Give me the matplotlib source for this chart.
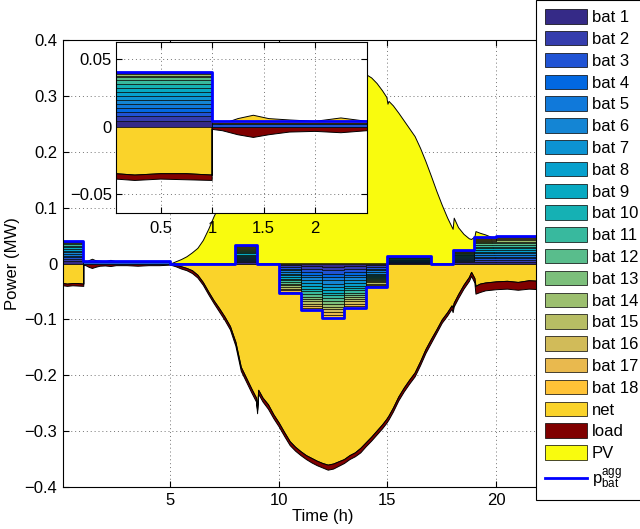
import numpy as np
import matplotlib
matplotlib.use('Agg')
import matplotlib.pyplot as plt
from matplotlib.patches import Patch
from matplotlib.lines import Line2D
from matplotlib.ticker import FuncFormatter

plt.rcParams['font.family'] = ['Liberation Sans', 'DejaVu Sans']
plt.rcParams['mathtext.fontset'] = 'custom'
plt.rcParams['mathtext.rm'] = 'Liberation Sans'
plt.rcParams['mathtext.it'] = 'Liberation Sans'
plt.rcParams['font.size'] = 12

# time (h) of the PV / net / load traces (repeated time = step)
t_pts = [0.0667, 0.25, 0.5, 0.75, 1.0, 1.0, 1.1, 1.25, 1.4, 1.55, 1.75, 2.0, 2.25, 2.5,
         3.0, 3.5, 4.0, 4.5, 5.0, 5.25, 5.5, 5.75, 6.0, 6.25, 6.5, 6.75, 7.0, 7.25,
         7.5, 7.75, 8.0, 8.25, 8.5, 8.75, 8.95, 9.0, 9.05, 9.25, 9.5, 9.75, 10.0,
         10.25, 10.5, 10.75, 11.0, 11.25, 11.5, 11.75, 12.0, 12.25, 12.5, 12.75, 13.0,
         13.25, 13.5, 13.75, 14.0, 14.25, 14.5, 14.75, 14.95, 15.0, 15.05, 15.25, 15.5,
         15.75, 16.0, 16.25, 16.5, 16.75, 17.0, 17.25, 17.5, 17.75, 17.95, 18.0, 18.05,
         18.25, 18.5, 18.75, 18.85, 19.0, 19.05, 19.25, 19.5, 19.75, 20.0, 20.5, 21.0,
         21.5, 22.0, 22.5, 23.0, 23.5, 24.0]
# top of the PV area (MW)
pv_top = [0, 0, 0, 0, 0, 0, 0, 0, 0, 0, 0, 0, 0, 0,
          0, 0, 0, 0, 0, 0.004, 0.008, 0.013, 0.020, 0.028, 0.042, 0.062, 0.085, 0.105,
          0.128, 0.150, 0.172, 0.193, 0.213, 0.232, 0.245, 0.247, 0.250, 0.262, 0.278, 0.293, 0.306,
          0.317, 0.327, 0.335, 0.342, 0.348, 0.353, 0.357, 0.360, 0.362, 0.362, 0.360, 0.357,
          0.353, 0.349, 0.344, 0.339, 0.333, 0.323, 0.310, 0.298, 0.286, 0.291, 0.283, 0.270,
          0.256, 0.242, 0.228, 0.207, 0.183, 0.157, 0.130, 0.105, 0.082, 0.066, 0.062, 0.082,
          0.065, 0.053, 0.045, 0.044, 0.048, 0.058, 0.055, 0.052, 0.048, 0, 0, 0,
          0, 0, 0, 0, 0, 0]
# net power (MW)
net_pw = [-0.035, -0.036, -0.035, -0.035, -0.036, 0.0, 0.002, 0.006, 0.0085, 0.006, 0.005, 0.004, 0.0065, 0.004,
          0.003, 0.004, 0.003, 0.004, 0.0, -0.002, -0.005, -0.008, -0.012, -0.020, -0.033, -0.050, -0.066, -0.080,
          -0.095, -0.112, -0.140, -0.185, -0.205, -0.225, -0.240, -0.262, -0.226, -0.240, -0.252, -0.270, -0.285,
          -0.302, -0.318, -0.328, -0.336, -0.343, -0.348, -0.353, -0.357, -0.360, -0.358, -0.354, -0.350,
          -0.343, -0.338, -0.330, -0.320, -0.310, -0.299, -0.288, -0.278, -0.275, -0.272, -0.258, -0.238,
          -0.222, -0.208, -0.195, -0.175, -0.153, -0.135, -0.118, -0.100, -0.087, -0.075, -0.079, -0.070,
          -0.055, -0.038, -0.024, -0.015, -0.026, -0.040, -0.036, -0.034, -0.033, -0.032, -0.031, -0.033,
          -0.030, -0.031, -0.032, -0.031, -0.030, -0.031]
# lower edge of the load band (MW)
load_bot = [-0.039, -0.040, -0.039, -0.0395, -0.040, -0.002, -0.003, -0.006, -0.008, -0.006, -0.004, -0.0035, -0.0045, -0.003,
            -0.003, -0.004, -0.003, -0.003, -0.002, -0.005, -0.009, -0.012, -0.017, -0.025, -0.038, -0.055, -0.071, -0.086,
            -0.101, -0.118, -0.147, -0.192, -0.212, -0.232, -0.247, -0.268, -0.233, -0.247, -0.260, -0.277, -0.292,
            -0.309, -0.325, -0.335, -0.343, -0.350, -0.356, -0.361, -0.365, -0.369, -0.367, -0.362, -0.357,
            -0.350, -0.345, -0.338, -0.327, -0.317, -0.306, -0.295, -0.285, -0.282, -0.279, -0.265, -0.245,
            -0.229, -0.215, -0.202, -0.182, -0.160, -0.142, -0.124, -0.106, -0.093, -0.081, -0.087, -0.077,
            -0.062, -0.045, -0.031, -0.022, -0.034, -0.054, -0.051, -0.048, -0.047, -0.046, -0.045, -0.047,
            -0.045, -0.046, -0.046, -0.045, -0.045, -0.046]

# hourly battery power (kW), one row per hour, columns bat 1 .. bat 18
bat_kw = [
    [4, 4, 3, 3, 3, 3, 3, 3, 3, 3, 3, 2, 1, 1, 1, 0, 0, 1],          # 0
    [0, 0, 2, 1, 0, 0, 0, 0, 0, 0, 0, 0, 0, 0, 0, 0, 0, 1],          # 1
    [0, 0, 2, 1, 0, 0, 0, 0, 0, 0, 0, 0, 0, 0, 0, 0, 0, 1],          # 2
    [0, 0, 2, 1, 0, 0, 0, 0, 0, 0, 0, 0, 0, 0, 0, 0, 0, 1],          # 3
    [0, 0, 2, 1, 0, 0, 0, 0, 0, 0, 0, 0, 0, 0, 0, 0, 0, 1],          # 4
    [0, 0, 0, 0, 0, 0, 0, 0, 0, 0, 0, 0, 0, 0, 0, 0, 0, 0],          # 5
    [0, 0, 0, 0, 0, 0, 0, 0, 0, 0, 0, 0, 0, 0, 0, 0, 0, 0],          # 6
    [0, 0, 0, 0, 0, 0, 0, 0, 0, 0, 0, 0, 0, 0, 0, 0, 0, 0],          # 7
    [2, 2, 2, 2, 2, 2, 2, 2, 2, 2, 2, 2, 2, 2, 2, 1, 1, 1],          # 8
    [0, 0, 0, 0, 0, 0, 0, 0, 0, 0, 0, 0, 0, 0, 0, 0, 0, 0],          # 9
    [-3, -3, -3, -3, -3, -3, -3, -3, -3, -3, -3, -3, -3, -3, -3, -3, -3, -2],  # 10
    [-5, -5, -5, -5, -5, -5, -5, -5, -5, -5, -5, -5, -4, -4, -4, -4, -4, -4],  # 11
    [-6, -6, -6, -6, -6, -6, -6, -5, -5, -5, -5, -5, -5, -5, -5, -5, -5, -5],  # 12
    [-5, -5, -5, -5, -5, -5, -5, -5, -4, -4, -4, -4, -4, -4, -4, -4, -4, -4],  # 13
    [-3, -3, -3, -3, -3, -3, -2, -2, -2, -2, -2, -2, -2, -2, -2, -2, -2, -2],  # 14
    [1, 1, 1, 1, 1, 1, 1, 1, 1, 1, 1, 1, 1, 1, 0, 0, 0, 0],          # 15
    [1, 1, 1, 1, 1, 1, 1, 1, 1, 1, 1, 1, 1, 1, 0, 0, 0, 0],          # 16
    [0, 0, 0, 0, 0, 0, 0, 0, 0, 0, 0, 0, 0, 0, 0, 0, 0, 0],          # 17
    [2, 2, 2, 2, 2, 2, 2, 1, 1, 1, 1, 1, 1, 1, 1, 1, 1, 1],          # 18
    [3, 3, 3, 3, 3, 3, 3, 3, 3, 3, 3, 3, 2, 2, 2, 2, 2, 2],          # 19
    [3, 3, 3, 3, 3, 3, 3, 3, 3, 3, 3, 3, 3, 3, 2, 2, 2, 2],          # 20
    [3, 3, 3, 3, 3, 3, 3, 3, 3, 3, 3, 3, 3, 3, 2, 2, 2, 2],          # 21
    [3, 3, 3, 3, 3, 3, 3, 3, 3, 3, 3, 3, 3, 3, 2, 2, 2, 2],          # 22
    [3, 3, 3, 3, 3, 3, 3, 3, 3, 3, 3, 3, 3, 3, 2, 2, 2, 2],          # 23
]

# parula colours as matlab picks them for 21 area series
bat_colors = [(0.2081, 0.1663, 0.5292), (0.2081, 0.2386, 0.6771), (0.1253, 0.3242, 0.8303),
              (0.0060, 0.4086, 0.8828), (0.0629, 0.4737, 0.8554), (0.0793, 0.5200, 0.8312),
              (0.0488, 0.5772, 0.8228), (0.0239, 0.6287, 0.8038), (0.0267, 0.6642, 0.7607),
              (0.0843, 0.6928, 0.7062), (0.2178, 0.7250, 0.6193), (0.3482, 0.7424, 0.5473),
              (0.4871, 0.7491, 0.4840), (0.6099, 0.7473, 0.4337), (0.7184, 0.7411, 0.3905),
              (0.8185, 0.7327, 0.3498), (0.9139, 0.7258, 0.3063), (0.9990, 0.7653, 0.2164)]
net_color = (0.9789, 0.8271, 0.1633)
load_color = (0.5, 0.0, 0.0)
pv_color = (0.9763, 0.9831, 0.0538)

hours = np.arange(25)
bat = np.array(bat_kw) / 1000.0


def draw(ax):
    t = np.array(t_pts)
    net = np.array(net_pw)
    ax.fill_between(t, 0, pv_top, facecolor=pv_color, edgecolor='k', lw=0.7)
    ax.fill_between(t, 0, net, facecolor=net_color, edgecolor='k', lw=0.7)
    ax.fill_between(t, np.minimum(net, 0), load_bot, facecolor=load_color, edgecolor='k', lw=0.7)
    cum = np.zeros(24)
    for i in range(18):
        lo = cum.copy()
        hi = cum + bat[:, i]
        ax.fill_between(hours, np.append(lo, lo[-1]), np.append(hi, hi[-1]), step='post',
                        facecolor=bat_colors[i], edgecolor='k', lw=0.45)
        cum = hi
    ax.step(hours, np.append(cum, cum[-1]), where='post', color='b', lw=2)


fmt = FuncFormatter(lambda v, p: ('%g' % (round(v, 4) + 0.0)).replace('-', '\u2212'))

fig = plt.figure(figsize=(6.4, 5.29), dpi=100)
ax = fig.add_axes([63 / 640, 42 / 529, 520 / 640, 447 / 529])
draw(ax)
ax.set_xlim(0.067, 24)
ax.set_ylim(-0.4, 0.4)
ax.set_xticks([5, 10, 15, 20])
ax.set_yticks(np.arange(-0.4, 0.41, 0.1))
ax.yaxis.set_major_formatter(fmt)
ax.set_axisbelow(True)
ax.grid(True, linestyle=(0, (1, 3)), color='0.45', lw=0.7)
ax.tick_params(direction='in', top=True, right=True, length=4, pad=4)
ax.set_xlabel('Time (h)', labelpad=1)
ax.set_ylabel('Power (MW)', labelpad=3)

axin = fig.add_axes([116 / 640, (529 - 212.7) / 529, 250.7 / 640, 170.7 / 529])
draw(axin)
axin.set_xlim(0.067, 2.5)
axin.set_ylim(-0.064, 0.063)
axin.set_xticks([0.5, 1, 1.5, 2])
axin.set_yticks([-0.05, 0, 0.05])
axin.xaxis.set_major_formatter(fmt)
axin.yaxis.set_major_formatter(fmt)
axin.set_axisbelow(True)
axin.grid(True, linestyle=(0, (1, 3)), color='0.45', lw=0.7)
axin.tick_params(direction='in', top=True, right=True, length=4, pad=3)
axin.tick_params(axis='x', pad=6)

handles = [Patch(facecolor=c, edgecolor='k', lw=0.5, label='bat %d' % (i + 1))
           for i, c in enumerate(bat_colors)]
handles += [Patch(facecolor=net_color, edgecolor='k', lw=0.5, label='net'),
            Patch(facecolor=load_color, edgecolor='k', lw=0.5, label='load'),
            Patch(facecolor=pv_color, edgecolor='k', lw=0.5, label='PV'),
            Line2D([], [], color='b', lw=2, label=r'$\mathrm{p_{bat}^{agg}}$')]
leg = fig.legend(handles=handles, loc='upper left', bbox_to_anchor=(536 / 640, 1.0),
                 frameon=True, fancybox=False, edgecolor='k', framealpha=1,
                 handlelength=2.5, handleheight=0.96, labelspacing=0.35,
                 borderpad=0.55, handletextpad=0.3, borderaxespad=0)
leg.get_frame().set_linewidth(0.8)

fig.savefig('out.png', dpi=100)
